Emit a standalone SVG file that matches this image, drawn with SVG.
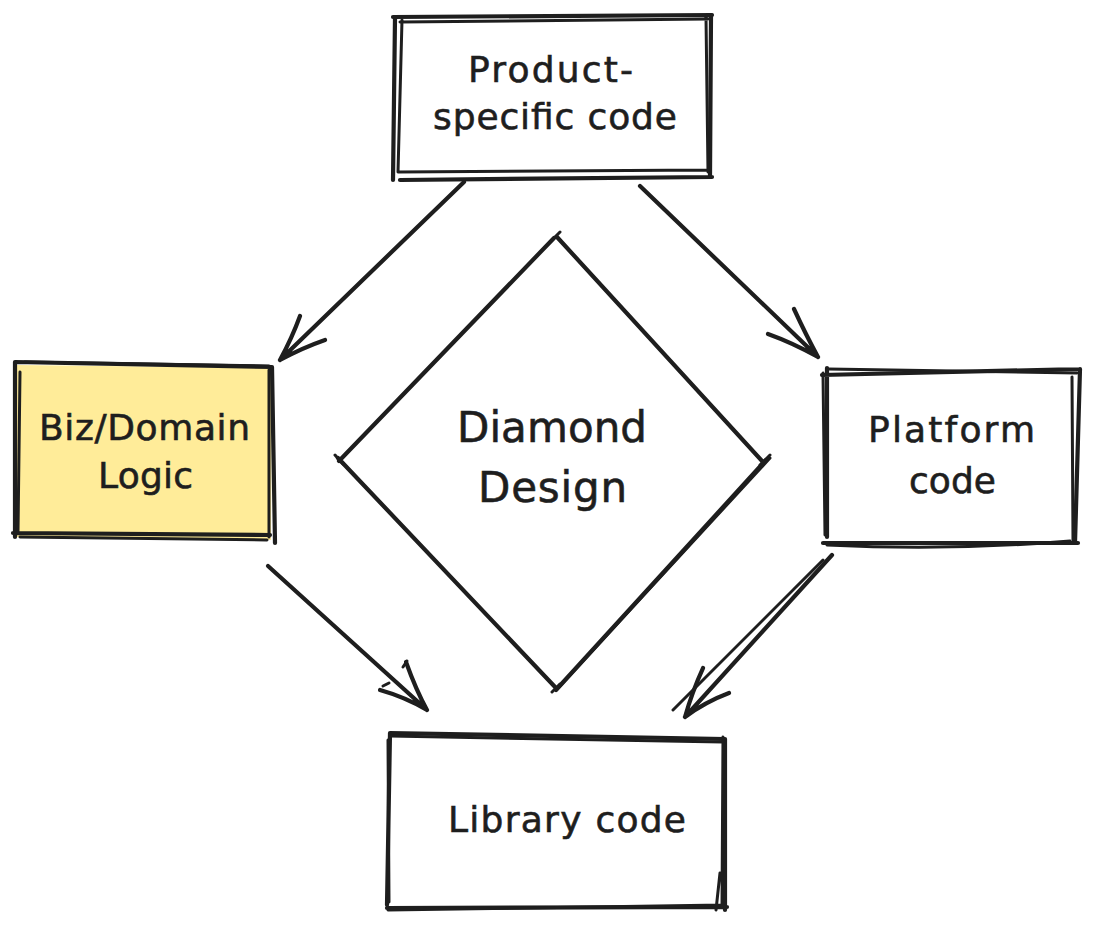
<svg xmlns="http://www.w3.org/2000/svg" width="1096" height="926" viewBox="0 0 1096 926">
<style>
.s{fill:none;stroke:#1e1e1e;stroke-width:4.2;stroke-linecap:round;stroke-linejoin:round}
.s2{fill:none;stroke:#1e1e1e;stroke-width:3;stroke-linecap:round;stroke-linejoin:round}
.t{font-family:"DejaVu Sans","Liberation Sans",sans-serif;font-size:36px;fill:#1e1e1e;stroke:#1e1e1e;stroke-width:0.6}
.tb{font-size:42px}
</style>
<rect x="0" y="0" width="1096" height="926" fill="#ffffff"/>
<g id="product">
<path class="s" d="M393,17 L712,15 M711,15 L710,176 M712,177 L400,180 M395,18 L393,180"/>
<path class="s2" d="M400,22 L708,19 M706,17 L708,172 M708,170 L398,172 M402,20 L398,172"/>
<text class="t" x="468" y="82" textLength="165" lengthAdjust="spacing">Product-</text>
<text class="t" x="433" y="129" textLength="244" lengthAdjust="spacing">specific code</text>
</g>
<g id="biz">
<path d="M17,365 L272,368 L271,540 L16,537 Z" fill="#ffec99"/>
<path class="s" d="M15,362 L272,367 M272,367 L275,543 M270,535 L13,533 M15,362 L15,537"/>
<path class="s2" d="M25,362 L269,366 M269,370 L269,537 M20,537 L267,540 M20,372 L18,532"/>
<text class="t" x="39" y="440" textLength="211" lengthAdjust="spacing">Biz/Domain</text>
<text class="t" x="98" y="488" textLength="95" lengthAdjust="spacing">Logic</text>
</g>
<g id="platform">
<path class="s" d="M822,375 L1080,369 M1080,369 L1075,543 M823,543 L1078,543 M827,368 L827,537"/>
<path class="s2" d="M828,369 L1077,373 M1072,377 L1073,540 M827,545 Q950,551 1070,541 M823,373 L825,535"/>
<text class="t" x="868" y="442" textLength="167" lengthAdjust="spacing">Platform</text>
<text class="t" x="909" y="493" textLength="87" lengthAdjust="spacing">code</text>
</g>
<g id="library">
<path class="s" d="M390,733 L725,739 M725,739 L725,910 M387,908 L727,907 M390,733 L387,905"/>
<path class="s2" d="M390,736 L723,742 M723,737 L722,907 M720,873 L716,910 M388,910 L723,905 M388,740 L389,902"/>
<text class="t" x="448" y="832" textLength="238" lengthAdjust="spacing">Library code</text>
</g>
<g id="diamond">
<path class="s" d="M554,238 L339,461 M338,458 L556,688 M557,237 L763,462 M766,460 L556,690"/>
<path class="s2" d="M550,242 L560,232 M335,455 L343,464 M760,465 L770,455 M770,458 L560,686 M552,692 L560,684"/>
<text class="t tb" x="457" y="442" textLength="190" lengthAdjust="spacing">Diamond</text>
<text class="t tb" x="478" y="502" textLength="149" lengthAdjust="spacing">Design</text>
</g>
<g id="connectors">
<path class="s" d="M464,182 L280,360 M300,316 Q292,338 280,360 M325,340 Q302,348 280,360"/>
<path class="s" d="M640,186 L818,357 M794,309 Q806,335 818,357 M768,334 Q793,343 818,357"/>
<path class="s" d="M268,566 L427,710 M406,662 Q416,690 427,710 M380,690 Q405,697 427,710"/>
<path class="s2" d="M403,667 L407,661 M383,686 L389,683"/>
<path class="s" d="M832,555 L685,717 M703,668 Q692,692 685,717 M729,693 Q705,702 685,717"/>
<path class="s2" d="M823,560 L673,710"/>
</g>
</svg>
